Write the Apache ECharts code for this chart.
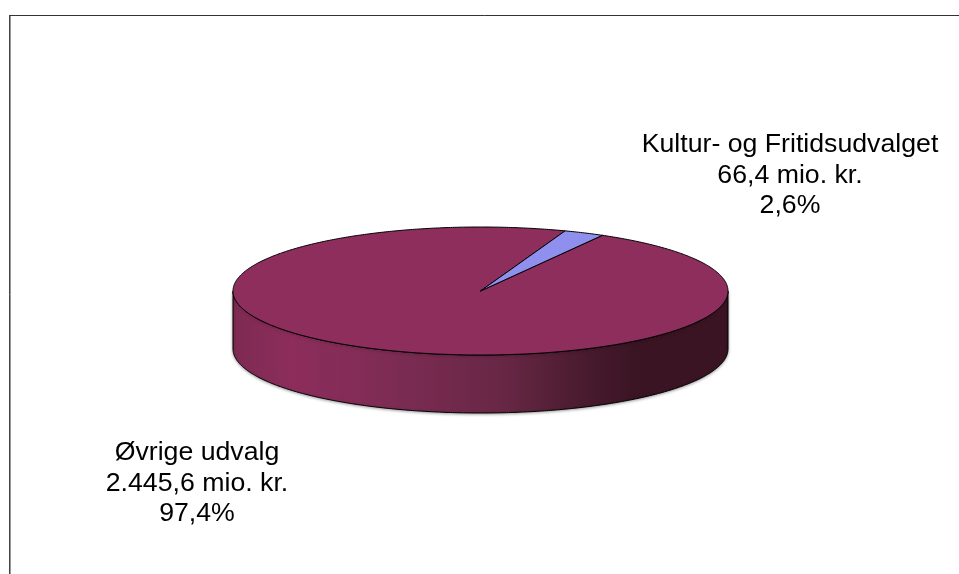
<!DOCTYPE html>
<html>
<head>
<meta charset="utf-8">
<style>html,body{margin:0;padding:0;background:#fff}#chart{width:959px;height:574px}</style>
<script src="https://cdn.jsdelivr.net/npm/echarts@6/dist/echarts.min.js"></script>
</head>
<body>
<div id="chart"></div>
<script>
// budget split
const categories = ['Kultur- og Fritidsudvalget', 'Øvrige udvalg'];
const amounts = [66.4, 2445.6];
const amountLabels = ['66,4 mio. kr.', '2.445,6 mio. kr.'];
const percentLabels = ['2,6%', '97,4%'];
const colors = ['#8f8fee', '#8e2e5d'];

// layout of the tilted disc
const firstSliceAngle = 20;
const disc = { cx: 480.5, cy: 291, rx: 247.5, ry: 64, depth: 58 };
const labelPos = [[790, 175.5], [197, 483.5]];
const total = amounts.reduce((a, b) => a + b, 0);

function rimPoint(deg, dy) {
    const r = deg * Math.PI / 180;
    return [disc.cx + disc.rx * Math.sin(r), disc.cy - disc.ry * Math.cos(r) + (dy || 0)];
}

function arcPoints(from, to, dy) {
    const pts = [];
    const steps = Math.max(2, Math.ceil((to - from) * 2));
    for (let i = 0; i <= steps; i++) {
        pts.push(rimPoint(from + (to - from) * i / steps, dy));
    }
    return pts;
}

// only the part of the rim between 90 and 270 degrees faces the viewer
function wallElement(from, to, color) {
    let a = -1, b = -1;
    for (const shift of [0, 360]) {
        const lo = Math.max(from, 90 + shift), hi = Math.min(to, 270 + shift);
        if (hi > lo) { a = lo; b = hi; break; }
    }
    if (a < 0) return null;
    const front = arcPoints(a, b, 0);
    const back = arcPoints(a, b, disc.depth).reverse();
    return {
        type: 'polygon',
        z2: 0,
        shape: { points: front.concat(back) },
        style: {
            fill: color, stroke: '#000', lineWidth: 1,
            shadowColor: 'rgba(0,0,0,0.35)', shadowBlur: 3, shadowOffsetY: 1
        }
    };
}

const wallShade = {
    type: 'linear', x: 0, y: 0, x2: 1, y2: 0,
    colorStops: [
        { offset: 0, color: '#7d2a52' },
        { offset: 0.12, color: '#8c2d5b' },
        { offset: 0.3, color: '#7f2c55' },
        { offset: 0.55, color: '#672744' },
        { offset: 0.72, color: '#471a2d' },
        { offset: 0.82, color: '#3a1423' },
        { offset: 1, color: '#3a1423' }
    ]
};

function renderSlice(params, api) {
    const i = params.dataIndex;
    let before = 0;
    for (let k = 0; k < i; k++) before += amounts[k];
    const from = firstSliceAngle + before / total * 360;
    const to = from + api.value(0) / total * 360;
    const children = [];

    const wall = wallElement(from, to, i === 1 ? wallShade : colors[i]);
    if (wall) children.push(wall);

    // the small wedge has to sit above the big slice so its outline stays whole
    children.push({
        type: 'polygon',
        z2: i === 0 ? 2 : 1,
        shape: { points: [[disc.cx, disc.cy]].concat(arcPoints(from, to, 0)) },
        style: { fill: colors[i], stroke: '#000', lineWidth: 1 }
    });
    children.push({
        type: 'text',
        z2: 3,
        style: {
            x: labelPos[i][0], y: labelPos[i][1],
            text: categories[i] + '\n' + amountLabels[i] + '\n' + percentLabels[i],
            fill: '#000',
            font: '26.7px "Liberation Sans", Arial, sans-serif',
            lineHeight: 30.5,
            align: 'center', verticalAlign: 'middle'
        }
    });
    return { type: 'group', children: children };
}

const chart = echarts.init(document.getElementById('chart'));
chart.setOption({
    animation: false,
    backgroundColor: '#fff',
    tooltip: { show: false },
    graphic: [
        { type: 'line', shape: { x1: 9.5, y1: 15.5, x2: 959, y2: 15.5 }, style: { stroke: '#333', lineWidth: 1 } },
        { type: 'line', shape: { x1: 9.5, y1: 15, x2: 9.5, y2: 574 }, style: { stroke: '#444', lineWidth: 1 } },
        { type: 'line', shape: { x1: 10.5, y1: 16, x2: 10.5, y2: 574 }, style: { stroke: '#999', lineWidth: 1 } }
    ],
    series: [{
        type: 'custom',
        coordinateSystem: 'none',
        renderItem: renderSlice,
        silent: true,
        data: amounts.map(v => [v])
    }]
});
</script>
</body>
</html>
